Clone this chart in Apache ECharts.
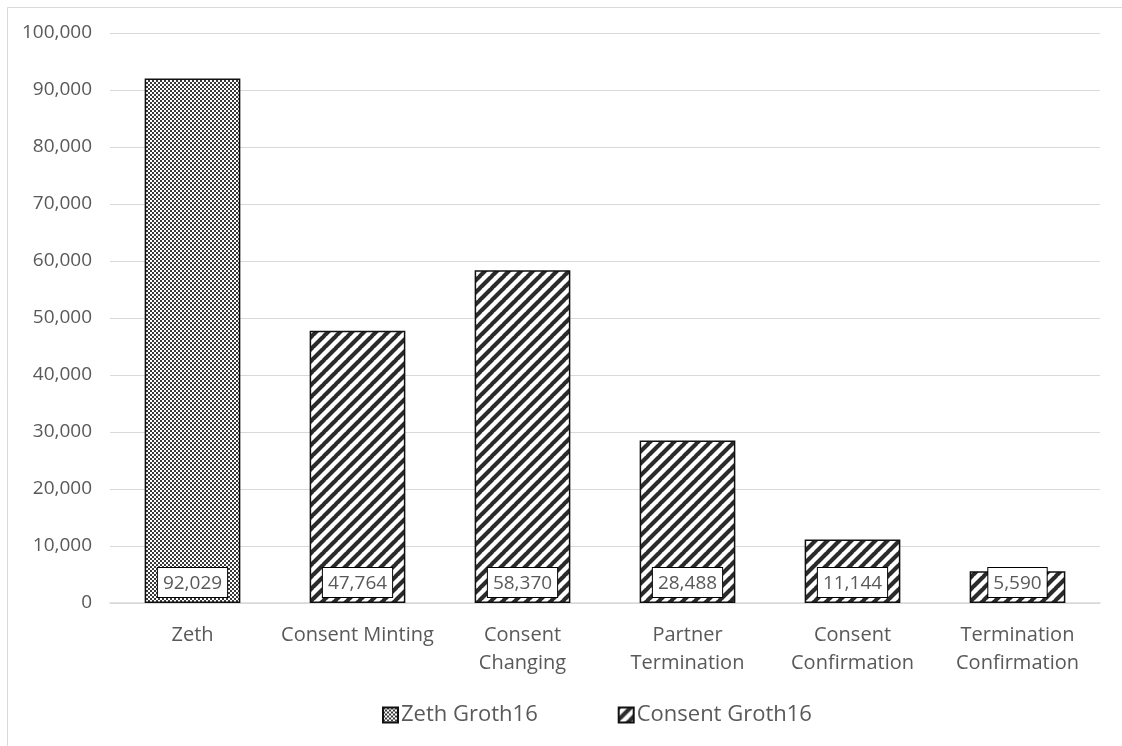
<!DOCTYPE html>
<html>
<head>
<meta charset="utf-8">
<script src="https://cdn.jsdelivr.net/npm/echarts@6/dist/echarts.min.js"></script>
<style>
  html, body { margin: 0; padding: 0; background: #fff; }
  #chart { width: 1122px; height: 746px; }
</style>
</head>
<body>
<div id="chart"></div>
<script>
// Proof-generation constraint counts per circuit
const categories = ['Zeth', 'Consent Minting', 'Consent\nChanging', 'Partner\nTermination', 'Consent\nConfirmation', 'Termination\nConfirmation'];
const zethValues = [92029, null, null, null, null, null];
const consentValues = [null, 47764, 58370, 28488, 11144, 5590];
const seriesNames = ['Zeth Groth16', 'Consent Groth16'];

// Fine checker fill
function checkerPattern() {
  const c = document.createElement('canvas');
  c.width = 4; c.height = 4;
  const g = c.getContext('2d');
  g.fillStyle = '#ffffff'; g.fillRect(0, 0, 4, 4);
  g.fillStyle = '#3a3a3a';
  g.fillRect(0, 0, 2, 2); g.fillRect(2, 2, 2, 2);
  return c;
}

// Wide diagonal stripes rising to the right
function stripePattern() {
  const s = 12;
  const c = document.createElement('canvas');
  c.width = s; c.height = s;
  const g = c.getContext('2d');
  g.fillStyle = '#ffffff'; g.fillRect(0, 0, s, s);
  g.strokeStyle = '#2b2b2b'; g.lineWidth = 4.2;
  g.beginPath();
  for (let k = -1; k <= 1; k++) {
    g.moveTo(k * s - 1, s + 1);
    g.lineTo(k * s + s + 1, -1);
  }
  g.stroke();
  return c;
}

const checker = { image: checkerPattern(), repeat: 'repeat' };
const stripes = { image: stripePattern(), repeat: 'repeat' };

const fontFamily = '"Open Sans", "Liberation Sans", sans-serif';
const textColor = '#595959';

const valueLabel = {
  show: true,
  position: 'insideBottom',
  distance: 6,
  backgroundColor: '#ffffff',
  borderColor: '#000000',
  borderWidth: 1,
  padding: [6, 5, 4, 5],
  color: textColor,
  fontSize: 19,
  fontFamily: fontFamily,
  formatter: p => p.value == null ? '' : p.value.toLocaleString('en-US')
};

const chart = echarts.init(document.getElementById('chart'));
chart.setOption({
  backgroundColor: '#ffffff',
  animation: false,
  graphic: [{
    type: 'rect',
    shape: { x: 7.5, y: 7.5, width: 1200, height: 800 },
    style: { fill: 'none', stroke: '#d9d9d9', lineWidth: 1 },
    silent: true
  }],
  grid: { left: 110, right: 22, top: 33, bottom: 143, containLabel: false },
  legend: {
    bottom: 15,
    left: 377,
    itemGap: 80,
    itemWidth: 15,
    itemHeight: 15,
    icon: 'rect',
    textStyle: { color: textColor, fontSize: 22, fontFamily: fontFamily, padding: [0, 0, 0, -2] },
    data: seriesNames
  },
  xAxis: {
    type: 'category',
    data: categories,
    axisLine: { lineStyle: { color: '#d9d9d9', width: 1.5 } },
    axisTick: { show: false },
    axisLabel: { color: textColor, fontSize: 20, fontFamily: fontFamily, lineHeight: 28, margin: 18, interval: 0 }
  },
  yAxis: {
    type: 'value',
    min: 0,
    max: 100000,
    interval: 10000,
    axisLine: { show: false },
    axisTick: { show: false },
    splitLine: { lineStyle: { color: '#d9d9d9', width: 1 } },
    axisLabel: {
      color: textColor, fontSize: 19, fontFamily: fontFamily, margin: 18,
      formatter: v => v.toLocaleString('en-US')
    }
  },
  series: [
    {
      name: seriesNames[0],
      type: 'bar',
      stack: 'all',
      barWidth: '58%',
      data: zethValues,
      itemStyle: { color: checker, borderColor: '#111111', borderWidth: 1.5 },
      label: valueLabel
    },
    {
      name: seriesNames[1],
      type: 'bar',
      stack: 'all',
      barWidth: '58%',
      data: consentValues,
      itemStyle: { color: stripes, borderColor: '#111111', borderWidth: 1.5 },
      label: valueLabel
    }
  ]
});
</script>
</body>
</html>
